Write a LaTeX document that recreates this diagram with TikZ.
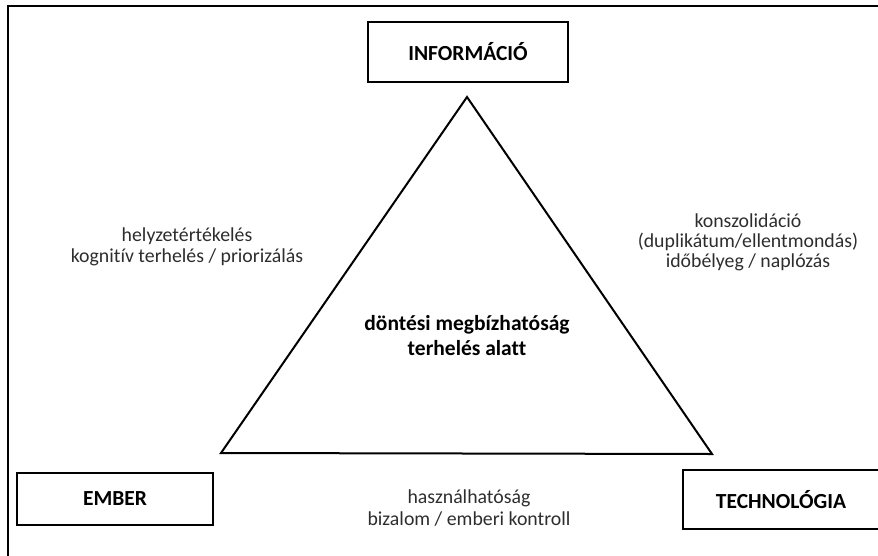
\documentclass[tikz,border=0pt]{standalone}
\usepackage{fontspec}
\setmainfont{Carlito}[Ligatures=NoCommon]
\definecolor{labelgray}{RGB}{45,45,45}
\begin{document}
\begin{tikzpicture}[x=1pt,y=-1pt,
  box/.style={draw=black,line width=2pt,fill=white,inner sep=0pt,font=\fontsize{21.5}{24}\selectfont\bfseries},
  sidelabel/.style={align=center,text=labelgray,font=\fontsize{19.8}{21.5}\selectfont,inner sep=0pt},
  centerlabel/.style={align=center,font=\fontsize{21.5}{25}\selectfont\bfseries,inner sep=0pt},
  tri/.style={line width=2pt,line join=miter}]
\useasboundingbox (0,0) rectangle (878,555);
\clip (0,0) rectangle (878,555);
% outer frame (only top and left sides visible)
\draw[line width=1.5pt] (8,560) -- (8,6) -- (885,6);
% triangle
\coordinate (apex) at (467,97);
\coordinate (bl) at (221,453);
\coordinate (br) at (712,454);
\draw[tri] (apex) -- (bl) -- (br) -- cycle;
% boxes
\node[box,minimum width=200pt,minimum height=60pt] (info) at (468,52) {INFORMÁCIÓ};
\node[box,minimum width=196pt,minimum height=52pt] (ember) at (115,499) {EMBER};
\node[box,minimum width=196pt,minimum height=59pt] (tech) at (781,499.5) {TECHNOLÓGIA};
% labels
\node[sidelabel] (left) at (187,247) {helyzetértékelés\\kognitív terhelés / priorizálás};
\node[sidelabel,font=\fontsize{19.8}{20}\selectfont] (right) at (748,242) {konszolidáció\\(duplikátum/ellentmondás)\\időbélyeg / naplózás};
\node[centerlabel] (center) at (467,336) {döntési megbízhatóság\\terhelés alatt};
\node[sidelabel] (bottom) at (469,508) {használhatóság\\bizalom / emberi kontroll};
\end{tikzpicture}
\end{document}
